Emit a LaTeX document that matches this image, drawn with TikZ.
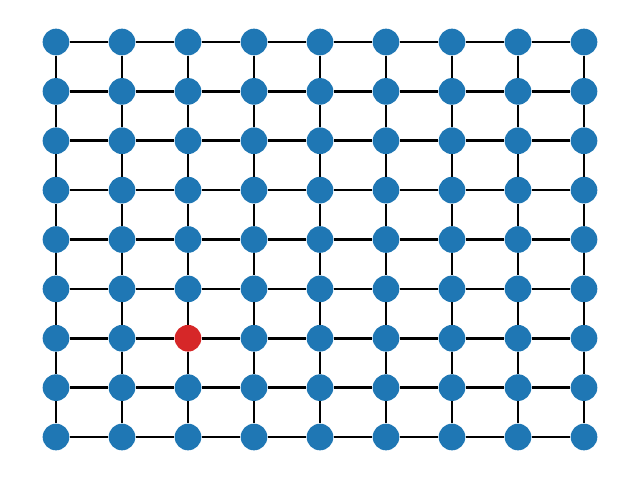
\documentclass[tikz,border=0pt]{standalone}
\definecolor{tabblue}{HTML}{1F77B4}
\definecolor{tabred}{HTML}{D62728}
\begin{document}
\begin{tikzpicture}[x=0.75pt,y=-0.75pt,
  vtx/.style={circle,fill=tabblue,draw=none,minimum size=20pt,inner sep=0pt},
  hot/.style={vtx,fill=tabred},
  edge/.style={draw=black,line width=2pt}]
\useasboundingbox (0,0) rectangle (640,480);
\foreach \i in {0,...,8}{
  \foreach \j in {0,...,8}{
    \pgfmathsetmacro{\xx}{56+66*\i}
    \pgfmathsetmacro{\yy}{42+49.375*\j}
    \ifnum\i=2 \ifnum\j=6
      \node[hot] (n-\i-\j) at (\xx,\yy) {};
    \else
      \node[vtx] (n-\i-\j) at (\xx,\yy) {};
    \fi\else
      \node[vtx] (n-\i-\j) at (\xx,\yy) {};
    \fi
  }
}
\foreach \i in {0,...,8}{
  \foreach \j [count=\k from 1] in {0,...,7}{
    \draw[edge] (n-\i-\j) -- (n-\i-\k);
    \draw[edge] (n-\j-\i) -- (n-\k-\i);
  }
}
\end{tikzpicture}
\end{document}
